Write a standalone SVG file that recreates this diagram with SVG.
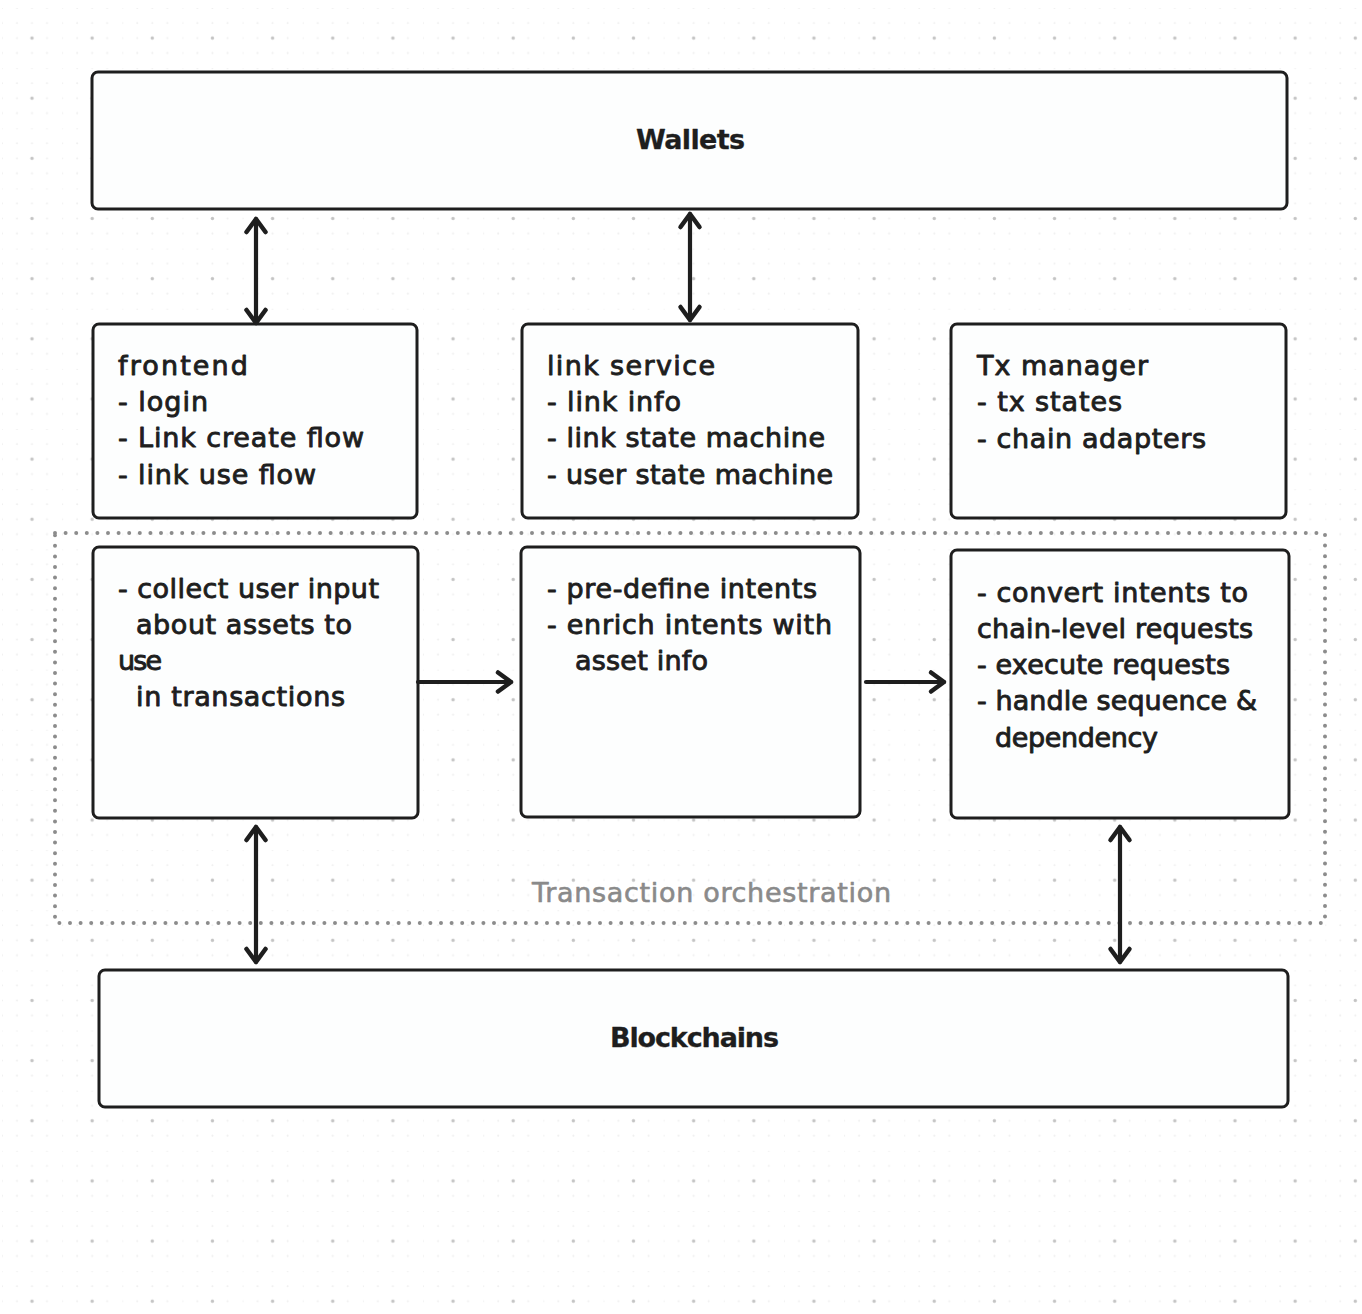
<svg xmlns="http://www.w3.org/2000/svg" width="1362" height="1314" viewBox="0 0 1362 1314">
<defs>
<pattern id="grid" patternUnits="userSpaceOnUse" x="2" y="8" width="60.15" height="60.15">
<g fill="#efefef">
<circle cx="0" cy="0" r="1"/><circle cx="15" cy="0" r="1"/><circle cx="45" cy="0" r="1"/>
<circle cx="0" cy="15" r="1"/><circle cx="15" cy="15" r="1"/><circle cx="30" cy="15" r="1"/><circle cx="45" cy="15" r="1"/>
<circle cx="0" cy="30" r="1"/><circle cx="15" cy="30" r="1"/><circle cx="45" cy="30" r="1"/>
<circle cx="0" cy="45" r="1"/><circle cx="15" cy="45" r="1"/><circle cx="30" cy="45" r="1"/><circle cx="45" cy="45" r="1"/>
<circle cx="30" cy="0" r="1"/>
</g>
<circle cx="30" cy="30" r="1.7" fill="#c4c4c4"/>
</pattern>
<marker id="arr" markerUnits="userSpaceOnUse" markerWidth="34" markerHeight="34" viewBox="-22 -17 34 34" refX="0" refY="0" orient="auto-start-reverse">
<path d="M -13 -9.5 L 0 0 L -13 9.5" fill="none" stroke="#1e1e1e" stroke-width="4.5" stroke-linecap="round" stroke-linejoin="round"/>
</marker>
</defs>
<style>
.box{fill:#fdfefe;stroke:#1e1e1e;stroke-width:3}
.t{font-family:"DejaVu Sans","Liberation Sans",sans-serif;font-size:27px;fill:#1e1e1e;stroke:#1e1e1e;stroke-width:0.9;stroke-linejoin:round}
.b{font-weight:bold;stroke-width:0.3}
.g{fill:#8a8a8a;stroke:#8a8a8a;stroke-width:0.6}
.c{fill:none;stroke:#1e1e1e;stroke-width:4.2;stroke-linecap:round;marker-end:url(#arr)}
.d{marker-start:url(#arr)}
</style>
<rect width="1362" height="1314" fill="#ffffff"/>
<rect width="1362" height="1314" fill="url(#grid)"/>

<g id="orchestration">
<rect x="55" y="533" width="1270" height="390" fill="none" stroke="#8c8c8c" stroke-width="4" stroke-dasharray="0 10.6" stroke-linecap="round"/>
<text class="t g" x="532" y="902" textLength="359">Transaction orchestration</text>
</g>

<g id="wallets">
<rect class="box" x="92" y="72" width="1195" height="137" rx="6"/>
<text class="t b" x="636" y="149" textLength="109">Wallets</text>
</g>

<g id="frontend">
<rect class="box" x="93" y="324" width="324" height="194" rx="6"/>
<text class="t" x="118" y="375" textLength="130">frontend</text>
<text class="t" x="118" y="411" textLength="90">- login</text>
<text class="t" x="118" y="447" textLength="246">- Link create flow</text>
<text class="t" x="118" y="484" textLength="198">- link use flow</text>
</g>

<g id="link-service">
<rect class="box" x="522" y="324" width="336" height="194" rx="6"/>
<text class="t" x="547" y="375" textLength="168">link service</text>
<text class="t" x="547" y="411" textLength="134">- link info</text>
<text class="t" x="547" y="447" textLength="278">- link state machine</text>
<text class="t" x="547" y="484" textLength="286">- user state machine</text>
</g>

<g id="tx-manager">
<rect class="box" x="951" y="324" width="335" height="194" rx="6"/>
<text class="t" x="977" y="375" textLength="171">Tx manager</text>
<text class="t" x="977" y="411" textLength="145">- tx states</text>
<text class="t" x="977" y="448" textLength="229">- chain adapters</text>
</g>

<g id="collect-input">
<rect class="box" x="93" y="547" width="325" height="271" rx="6"/>
<text class="t" x="118" y="598" textLength="261">- collect user input</text>
<text class="t" x="136" y="634" textLength="216">about assets to</text>
<text class="t" x="118" y="670" textLength="44">use</text>
<text class="t" x="136" y="706" textLength="209">in transactions</text>
</g>

<g id="intents">
<rect class="box" x="521" y="547" width="339" height="270" rx="6"/>
<text class="t" x="547" y="598" textLength="270">- pre-define intents</text>
<text class="t" x="547" y="634" textLength="285">- enrich intents with</text>
<text class="t" x="575" y="670" textLength="133">asset info</text>
</g>

<g id="requests">
<rect class="box" x="951" y="550" width="338" height="268" rx="6"/>
<text class="t" x="977" y="602" textLength="271">- convert intents to</text>
<text class="t" x="977" y="638" textLength="276">chain-level requests</text>
<text class="t" x="977" y="674" textLength="253">- execute requests</text>
<text class="t" x="977" y="710" textLength="280">- handle sequence &amp;</text>
<text class="t" x="995" y="747" textLength="163">dependency</text>
</g>

<g id="blockchains">
<rect class="box" x="99" y="970" width="1189" height="137" rx="6"/>
<text class="t b" x="610" y="1047" textLength="169">Blockchains</text>
</g>

<g id="connectors">
<path class="c d" d="M256 219 V323"/>
<path class="c d" d="M690 214 V320"/>
<path class="c" d="M418 682 H511"/>
<path class="c" d="M866 682 H944"/>
<path class="c d" d="M256 827 V962"/>
<path class="c d" d="M1120 827 V962"/>
</g>
</svg>
